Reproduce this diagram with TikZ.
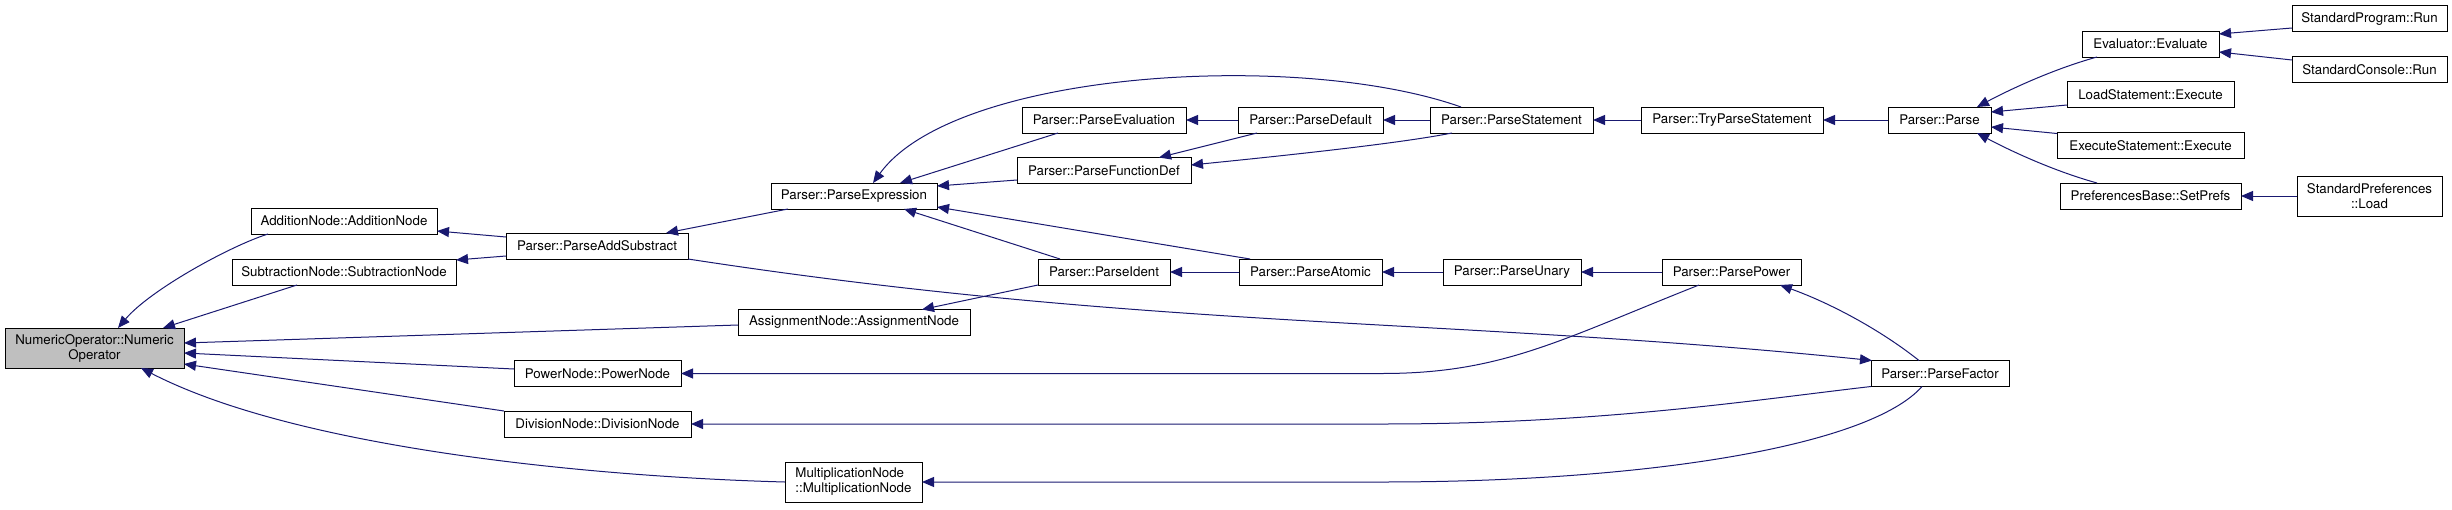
\documentclass[tikz,border=0pt]{standalone}
\usepackage{fontspec}
\setmainfont{TeX Gyre Heros}
\usepackage{tikz}
\usetikzlibrary{positioning, arrows.meta, calc}
\definecolor{callblue}{HTML}{191970}
\definecolor{focusgray}{HTML}{BFBFBF}

\begin{document}
\begin{tikzpicture}[
  x=1pt, y=1pt,
  node distance=50pt,
  func/.style={rectangle, draw=black, line width=0.9pt, fill=white, font=\fontsize{13.3}{15}\selectfont, align=center, minimum height=26pt, inner sep=0pt, outer sep=0pt},
  call/.style={-{Triangle[length=12pt, width=10pt]}, color=callblue, line width=1pt},
]
\useasboundingbox (0,0) rectangle (2452,-509);

\node[func, fill=focusgray, minimum width=179pt, minimum height=40pt] (numop) at (94.5,-348) {NumericOperator::Numeric\\Operator};

\node[func, minimum width=186pt] (addnode) at (344,-221) {AdditionNode::AdditionNode};
\node[func, minimum width=224pt] (subnode) at (344,-272) {SubtractionNode::SubtractionNode};

\node[func, minimum width=182pt] (addsub) at (597,-246) {Parser::ParseAddSubstract};
\node[func, minimum width=167pt] (power) at (597.5,-373.5) {PowerNode::PowerNode};
\node[func, minimum width=187pt] (division) at (597.5,-424) {DivisionNode::DivisionNode};

\node[func, minimum width=166pt] (parseexpr) at (854,-196) {Parser::ParseExpression};
\node[func, minimum width=232pt] (assign) at (854,-322.5) {AssignmentNode::AssignmentNode};
\node[func, minimum width=137pt, minimum height=40pt, align=left] (mult) at (853.5,-482) {MultiplicationNode\\::MultiplicationNode};

\node[func, minimum width=164pt] (parseeval) at (1104,-120) {Parser::ParseEvaluation};
\node[func, minimum width=174pt] (parsefunc) at (1104,-170.5) {Parser::ParseFunctionDef};
\node[func, minimum width=132pt] (parseident) at (1104,-272) {Parser::ParseIdent};

\node[func, minimum width=145pt, right=52pt of parseeval] (parsedefault) {Parser::ParseDefault};
\node[func, minimum width=163pt, right=47pt of parsedefault] (parsestmt) {Parser::ParseStatement};
\node[func, minimum width=182pt, right=48pt of parsestmt] (tryparse) {Parser::TryParseStatement};
\node[func, minimum width=103pt, right=65pt of tryparse] (parse) {Parser::Parse};

\node[func, minimum width=143pt, right=69pt of parseident] (parseatomic) {Parser::ParseAtomic};
\node[func, minimum width=138pt, right=61pt of parseatomic] (parseunary) {Parser::ParseUnary};
\node[func, minimum width=139pt, right=81pt of parseunary] (parsepower) {Parser::ParsePower};
\node[func, minimum width=138pt] (parsefactor) at (1940,-373.5) {Parser::ParseFactor};

\node[func, minimum width=137pt] (evaluate) at (2150.5,-44) {Evaluator::Evaluate};
\node[func, minimum width=167pt] (loadstmt) at (2150.5,-94.5) {LoadStatement::Execute};
\node[func, minimum width=187pt] (execstmt) at (2150.5,-145.5) {ExecuteStatement::Execute};
\node[func, minimum width=181pt] (setprefs) at (2150.5,-196) {PreferencesBase::SetPrefs};

\node[func, minimum width=155pt] (stdprog) at (2369.5,-18.5) {StandardProgram::Run};
\node[func, minimum width=155pt] (stdcons) at (2369.5,-69.5) {StandardConsole::Run};
\node[func, minimum width=145pt, minimum height=40pt] (stdprefs) at (2369.5,-196) {StandardPreferences\\::Load};

% callers of NumericOperator
\draw[call] ([xshift=17pt]addnode.south west) .. controls +(-38,-12) and +(32,38) .. ([xshift=113pt]numop.north west);
\draw[call] ([xshift=65pt]subnode.south west) -- ([xshift=158pt]numop.north west);
\draw[call] ([yshift=-2.5pt]assign.west) -- ([yshift=5pt]numop.east);
\draw[call] ([yshift=4.5pt]power.west) -- ([yshift=-5pt]numop.east);
\draw[call] (division.north west) -- ([yshift=-16pt]numop.east);
\draw[call] (mult.west) .. controls +(-185,5) and +(159,-82) .. ([xshift=136pt]numop.south west);

\draw[call] ([yshift=9pt]addsub.west) -- ([yshift=-10pt]addnode.east);
\draw[call] ([yshift=-10pt]addsub.west) -- ([yshift=12pt]subnode.east);
\draw[call] ([xshift=17pt]parseexpr.south west) -- ([xshift=160pt]addsub.north west);
\draw[call] (addsub.south east) .. controls +(462,-71) and +(-421,43) .. ([xshift=1pt]parsefactor.north west);

\draw[call] ([xshift=36pt]parseeval.south west) -- ([xshift=129pt]parseexpr.north west);
\draw[call] ([yshift=-9.5pt]parsefunc.west) -- ([yshift=10pt]parseexpr.east);
\draw[call] ([xshift=31pt]parsestmt.north west) .. controls +(-161,57) and +(82,113) .. ([xshift=102pt]parseexpr.north west);
\draw[call] ([xshift=22pt]parseident.north west) -- ([xshift=133pt]parseexpr.south west);
\draw[call] ([xshift=11pt]parseatomic.north west) -- ([yshift=-11pt]parseexpr.east);
\draw[call] (parseident.south west) -- ([xshift=-48pt]assign.north east);

\draw[call] (parsedefault.west) -- (parseeval.east);
\draw[call] ([xshift=19pt]parsedefault.south west) -- ([xshift=142pt]parsefunc.north west);
\draw[call] ([xshift=22pt]parsestmt.south west) .. controls +(-50,-10) and +(100,10) .. ([yshift=5.5pt]parsefunc.east);
\draw[call] (parsestmt.west) -- (parsedefault.east);
\draw[call] (tryparse.west) -- (parsestmt.east);
\draw[call] (parse.west) -- (tryparse.east);

\draw[call] ([xshift=15pt]evaluate.south west) .. controls +(-47,-13) and +(28,15) .. ([xshift=-14pt]parse.north east);
\draw[call] ([yshift=-10.5pt]loadstmt.west) -- ([yshift=8pt]parse.east);
\draw[call] ([yshift=-1pt]execstmt.north west) -- ([yshift=-7pt]parse.east);
\draw[call] ([xshift=37pt]setprefs.north west) .. controls +(-47,13) and +(28,-15) .. ([xshift=-14pt]parse.south east);
\draw[call] ([yshift=-9.5pt]stdprog.west) -- ([yshift=10pt]evaluate.east);
\draw[call] ([yshift=9.5pt]stdcons.west) -- ([yshift=-8pt]evaluate.east);
\draw[call] (stdprefs.west) -- (setprefs.east);

\draw[call] (parseatomic.west) -- (parseident.east);
\draw[call] (parseunary.west) -- (parseatomic.east);
\draw[call] (parsepower.west) -- (parseunary.east);

% ParsePower and ParseFactor
\draw[call] ([xshift=37pt]parsepower.south west) .. controls +(-139,-55) and +(120,0) .. (power.east -| parseatomic.east) -- (power.east);
\draw[call] (parsefactor.south west) .. controls +(-121,-14) and +(218,0) .. (division.east -| parseatomic.east) -- (division.east);
\draw[call] ([xshift=51pt]parsefactor.south west) .. controls +(-52,-59) and +(268,0) .. (mult.east -| parseatomic.east) -- (mult.east);
\draw[call] ([xshift=48pt]parsefactor.north west) .. controls +(-39,31) and +(50,-18) .. ([xshift=118pt]parsepower.south west);
\end{tikzpicture}
\end{document}
